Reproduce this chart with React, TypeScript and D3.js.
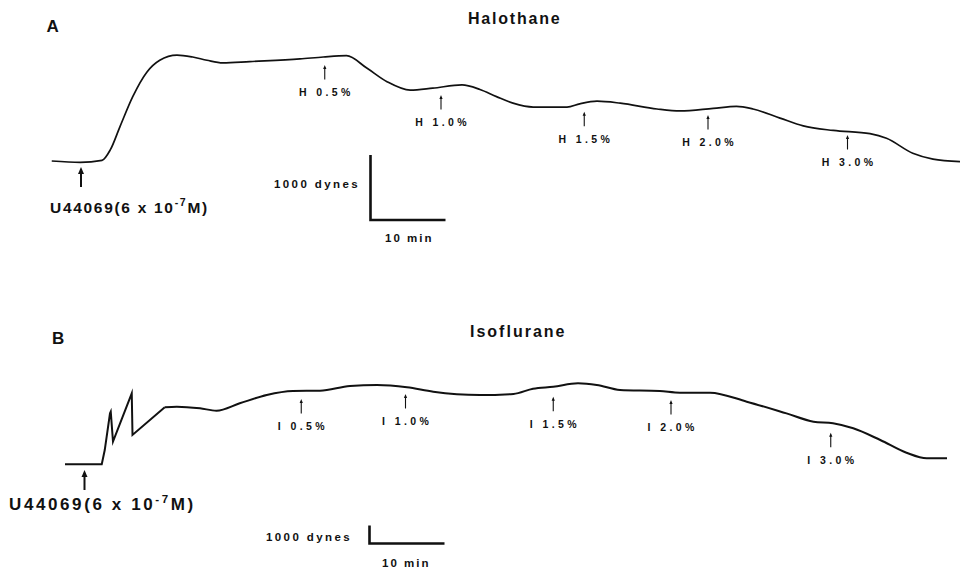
import React from "react";
import * as d3 from "d3";

// Panel A (Halothane): time in min, developed tension in dynes above baseline
const timeA = [0.1, 3.9, 6.8, 7.9, 9.2, 10.9, 12.8, 14.5, 16.8, 18.9, 20.8, 22.9, 26.5, 33.2, 36.3, 39.4, 42.1, 44.8, 47.9, 50.9, 54.8, 57.2, 59.4, 61.6, 64.3, 68.8, 70.5, 72.8, 75.9, 80.8, 83.9, 88.3, 91.4, 93.6, 97.2, 100.3, 104.3, 109.2, 111.4, 114.9, 117.6, 121.2];
const forceA = [0, -20, 10, 170, 530, 990, 1370, 1550, 1630, 1600, 1550, 1510, 1530, 1570, 1600, 1620, 1430, 1220, 1090, 1120, 1170, 1100, 990, 890, 830, 830, 880, 920, 890, 800, 770, 810, 840, 800, 660, 540, 470, 420, 350, 120, 30, -10];

// Panel B (Isoflurane)
const timeB = [0, 4.9, 5.3, 6.0, 6.1, 6.4, 8.9, 9.0, 13.3, 14.9, 18.0, 20.2, 23.3, 26.9, 30.4, 34.0, 38.0, 41.6, 45.6, 49.1, 55.3, 59.8, 62.4, 65.1, 68.4, 70.9, 74.0, 79.3, 82.0, 86.0, 90.9, 96.2, 99.8, 102.4, 105.1, 108.7, 112.2, 114.9, 117.6];
const forceB = [0, 0, 790, 2830, 2920, 1260, 3940, 1630, 3170, 3200, 3110, 2980, 3390, 3850, 4070, 4090, 4350, 4410, 4280, 4030, 3850, 3910, 4200, 4310, 4500, 4410, 4130, 4070, 3980, 3980, 3480, 2830, 2370, 2280, 2000, 1350, 640, 330, 330];
// index where the sharp onset (spikes) ends and the smooth trace begins
const spikeEndB = 8;

// Anesthetic concentration markers
const markLabelsA = ["H 0.5%", "H 1.0%", "H 1.5%", "H 2.0%", "H 3.0%"];
const markTimesA = [36.5, 52.0, 71.1, 87.6, 106.2];
const markLevelsA = [1477, 1015, 758, 708, 400];

const markLabelsB = ["I 0.5%", "I 1.0%", "I 1.5%", "I 2.0%", "I 3.0%"];
const markTimesB = [31.5, 45.4, 65.1, 80.8, 102.1];
const markLevelsB = [3628, 3906, 3756, 3572, 1756];

// Drug addition marker
const drugTimeA = 4.0;
const drugLevelA = -92;
const drugTimeB = 2.6;
const drugLevelB = -317;

// Calibration
const calForce = 1000;
const calTime = 10;

const FONT = "'Liberation Sans', Arial, Helvetica, sans-serif";

const xA = d3.scaleLinear().domain([0, 10]).range([51, 126]);
const yA = d3.scaleLinear().domain([0, 1000]).range([161, 96]);
const xB = d3.scaleLinear().domain([0, 10]).range([65, 140]);
const yB = d3.scaleLinear().domain([0, 1000]).range([464.3, 446.3]);

function trace(times: number[], forces: number[], x: any, y: any, curve: any) {
  const pts = times.map((t, i) => [t, forces[i]] as [number, number]);
  return d3
    .line<[number, number]>()
    .x((d) => x(d[0]))
    .y((d) => y(d[1]))
    .curve(curve)(pts) as string;
}

function SmallMarks({ labels, times, levels, x, y }: any) {
  return (
    <g>
      {labels.map((lab: string, i: number) => {
        const cx = x(times[i]);
        const top = y(levels[i]);
        return (
          <g key={lab}>
            <line x1={cx} x2={cx} y1={top + 2} y2={top + 14.5} stroke="#111" strokeWidth={1.1} />
            <path d={`M${cx},${top} L${cx - 1.6},${top + 4} L${cx + 1.6},${top + 4} Z`} fill="#111" />
            <text
              x={cx + 1.7}
              y={top + 31}
              textAnchor="middle"
              fontFamily={FONT}
              fontWeight="bold"
              fontSize={10.5}
              letterSpacing={3.4}
              fill="#111"
            >
              {lab}
            </text>
          </g>
        );
      })}
    </g>
  );
}

function DrugMark({ t, level, x, y, labelX, labelY, size, spacing }: any) {
  const cx = x(t);
  const top = y(level);
  return (
    <g>
      <line x1={cx} x2={cx} y1={top + 5} y2={top + 20} stroke="#111" strokeWidth={2} />
      <path d={`M${cx},${top} L${cx - 3},${top + 7} L${cx + 3},${top + 7} Z`} fill="#111" />
      <text x={labelX} y={labelY} fontFamily={FONT} fontWeight="bold" fontSize={size} letterSpacing={spacing} fill="#111">
        U44069(6 x 10
        <tspan fontSize={size * 0.68} dy={-size * 0.42}>-7</tspan>
        <tspan dy={size * 0.42}>M)</tspan>
      </text>
    </g>
  );
}

function ScaleBar({ cornerX, cornerY, x, y, dynesX, dynesY, minX, minY }: any) {
  const h = y(0) - y(calForce);
  const w = x(calTime) - x(0);
  return (
    <g>
      <path
        d={`M${cornerX},${cornerY - h} L${cornerX},${cornerY} L${cornerX + w},${cornerY}`}
        fill="none"
        stroke="#111"
        strokeWidth={2.6}
      />
      <text x={dynesX} y={dynesY} fontFamily={FONT} fontWeight="bold" fontSize={11.5} letterSpacing={2.4} fill="#111">
        {calForce} dynes
      </text>
      <text x={minX} y={minY} fontFamily={FONT} fontWeight="bold" fontSize={11.5} letterSpacing={2} fill="#111">
        {calTime} min
      </text>
    </g>
  );
}

export default function App() {
  const onsetB = trace(timeB.slice(0, spikeEndB + 1), forceB.slice(0, spikeEndB + 1), xB, yB, d3.curveLinear);
  const restB = trace(timeB.slice(spikeEndB), forceB.slice(spikeEndB), xB, yB, d3.curveMonotoneX);
  return (
    <svg
      width={960}
      height={571}
      viewBox="0 0 960 571"
      style={{ position: "fixed", left: 0, top: 0, background: "#fff" }}
    >
      <rect x={0} y={0} width={960} height={571} fill="#fff" />

      {/* Panel A */}
      <text x={46.5} y={32} fontFamily={FONT} fontWeight="bold" fontSize={17} fill="#111">A</text>
      <text x={468} y={24} fontFamily={FONT} fontWeight="bold" fontSize={16} letterSpacing={1.8} fill="#111">Halothane</text>
      <path d={trace(timeA, forceA, xA, yA, d3.curveMonotoneX)} fill="none" stroke="#111" strokeWidth={1.7} strokeLinejoin="round" />
      <SmallMarks labels={markLabelsA} times={markTimesA} levels={markLevelsA} x={xA} y={yA} />
      <DrugMark t={drugTimeA} level={drugLevelA} x={xA} y={yA} labelX={50} labelY={213} size={15.5} spacing={1.7} />
      <ScaleBar cornerX={370.5} cornerY={220} x={xA} y={yA} dynesX={274} dynesY={188} minX={385} minY={242} />

      {/* Panel B */}
      <text x={52} y={344} fontFamily={FONT} fontWeight="bold" fontSize={17} fill="#111">B</text>
      <text x={470} y={337} fontFamily={FONT} fontWeight="bold" fontSize={16} letterSpacing={2} fill="#111">Isoflurane</text>
      <path d={onsetB} fill="none" stroke="#111" strokeWidth={2} strokeLinejoin="miter" strokeMiterlimit={10} />
      <path d={restB} fill="none" stroke="#111" strokeWidth={2} strokeLinejoin="round" />
      <SmallMarks labels={markLabelsB} times={markTimesB} levels={markLevelsB} x={xB} y={yB} />
      <DrugMark t={drugTimeB} level={drugLevelB} x={xB} y={yB} labelX={9} labelY={510} size={17} spacing={2.6} />
      <ScaleBar cornerX={369.5} cornerY={543.5} x={xB} y={yB} dynesX={266} dynesY={541} minX={382} minY={567} />
    </svg>
  );
}
